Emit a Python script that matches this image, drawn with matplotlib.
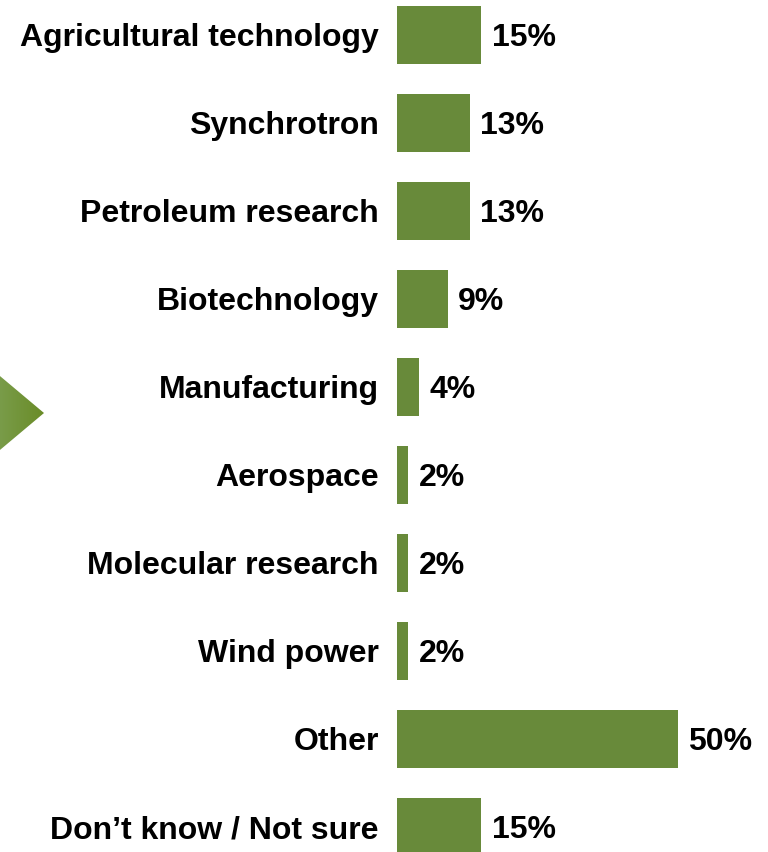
import numpy as np
import matplotlib
matplotlib.use("Agg")
import matplotlib.pyplot as plt
from matplotlib.patches import Polygon

plt.rcParams['font.family'] = ['Liberation Sans', 'DejaVu Sans']

# data
categories = ['Agricultural technology', 'Synchrotron', 'Petroleum research',
              'Biotechnology', 'Manufacturing', 'Aerospace', 'Molecular research',
              'Wind power', 'Other', 'Don\u2019t know / Not sure']
values = [15, 13, 13, 9, 4, 2, 2, 2, 50, 15]

bar_color = '#688A3A'
W, H = 768, 852

fig = plt.figure(figsize=(W / 100, H / 100), dpi=100)

# decorative arrow on the left edge (figure pixel coords)
deco = fig.add_axes([0, 0, 1, 1], zorder=0)
deco.set_xlim(0, W)
deco.set_ylim(H, 0)
deco.axis('off')
tri = Polygon([(-12, 366), (44, 413), (-12, 460)], closed=True,
              facecolor='none', edgecolor='none')
deco.add_patch(tri)
grad = np.linspace(0, 1, 64).reshape(1, -1)
cmap = matplotlib.colors.LinearSegmentedColormap.from_list('g', ['#7DA052', '#6A8C28'])
img = deco.imshow(grad, extent=(-12, 44, 460, 366), cmap=cmap, aspect='auto')
img.set_clip_path(tri)

ax = fig.add_axes([397 / W, 0, (W - 397) / W, 1], zorder=1)
ax.patch.set_alpha(0)
y = np.arange(len(categories))
ax.barh(y, values, height=0.656, color=bar_color)
ax.set_xlim(0, (W - 397) / 5.62)
ax.set_ylim((H - 34.85) / 88, -34.85 / 88)

ax.set_yticks(y)
ax.set_yticklabels(categories, fontsize=23, fontweight='bold')
ax.tick_params(axis='y', length=0, pad=13)
ax.set_xticks([])
for s in ax.spines.values():
    s.set_visible(False)

for yi, v in zip(y, values):
    ax.annotate('%d%%' % v, (v, yi), xytext=(7.5, -2.5), textcoords='offset points',
                va='center', ha='left', fontsize=23, fontweight='bold')

fig.savefig('out.png', dpi=100)
